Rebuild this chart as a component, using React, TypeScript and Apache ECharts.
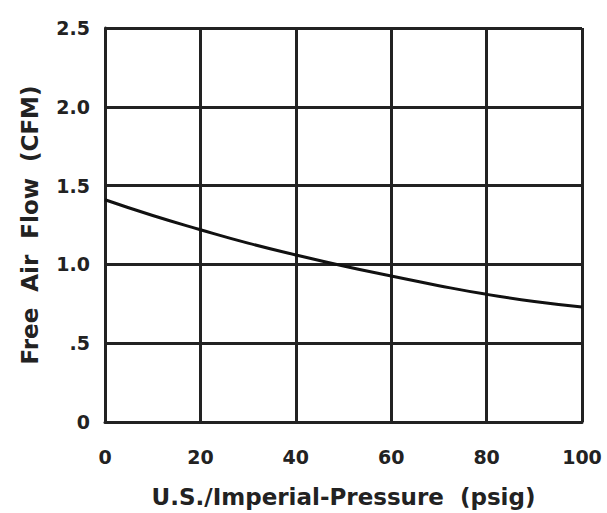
import React, { useEffect, useRef } from "react";
import * as echarts from "echarts";

const pressure = [0, 10, 20, 30, 40, 50, 60, 70, 80, 90, 100];
const airFlow = [1.41, 1.31, 1.22, 1.135, 1.06, 0.99, 0.926, 0.865, 0.81, 0.765, 0.73];
const yTickLabels: Record<string, string> = { "0": "0", "0.5": ".5", "1": "1.0", "1.5": "1.5", "2": "2.0", "2.5": "2.5" };

export default function App() {
  const ref = useRef<HTMLDivElement>(null);
  useEffect(() => {
    if (!ref.current) return;
    const chart = echarts.init(ref.current, undefined, { renderer: "svg" });
    const font = "DejaVu Sans";
    const lineColor = "#222";
    chart.setOption({
      animation: false,
      backgroundColor: "#fff",
      grid: { left: 105, right: 25, top: 28, bottom: 91, containLabel: false },
      xAxis: {
        type: "value",
        min: 0,
        max: 100,
        interval: 20,
        name: "U.S./Imperial-Pressure  (psig)",
        nameLocation: "middle",
        nameGap: 63,
        nameTextStyle: { fontFamily: font, fontWeight: "bold", fontSize: 23, color: "#222" },
        axisLine: { show: true, lineStyle: { color: lineColor, width: 3 } },
        axisTick: { show: false },
        axisLabel: { margin: 25, fontFamily: font, fontWeight: "bold", fontSize: 19, color: "#222" },
        splitLine: { show: true, lineStyle: { color: lineColor, width: 3 } },
      },
      yAxis: {
        type: "value",
        min: 0,
        max: 2.5,
        interval: 0.5,
        name: "Free  Air  Flow  (CFM)",
        nameLocation: "middle",
        nameGap: 64,
        nameRotate: 90,
        nameTextStyle: { fontFamily: font, fontWeight: "bold", fontSize: 23, color: "#222" },
        axisLine: { show: true, lineStyle: { color: lineColor, width: 3 } },
        axisTick: { show: false },
        axisLabel: {
          margin: 15,
          fontFamily: font,
          fontWeight: "bold",
          fontSize: 19,
          color: "#222",
          formatter: (v: number) => yTickLabels[String(v)] ?? String(v),
        },
        splitLine: { show: true, lineStyle: { color: lineColor, width: 3 } },
      },
      series: [
        {
          type: "line",
          data: pressure.map((p, i) => [p, airFlow[i]]),
          smooth: true,
          symbol: "none",
          lineStyle: { color: "#111", width: 3 },
        },
      ],
    });
    return () => chart.dispose();
  }, []);
  return (
    <div
      ref={ref}
      style={{ position: "fixed", left: 0, top: 0, width: 607, height: 513 }}
    />
  );
}
